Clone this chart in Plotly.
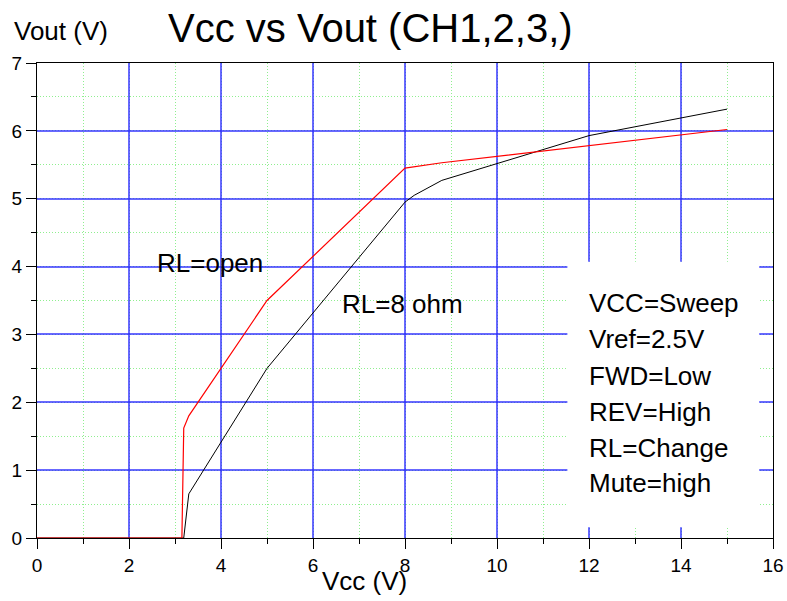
import plotly.graph_objects as go

# Data
open_x = [0, 3.15, 3.19, 3.3, 5, 8, 8.8, 15]
open_y = [0, 0, 1.62, 1.8, 3.5, 5.45, 5.53, 6.02]
ohm8_x = [0, 3.19, 3.3, 5, 8, 8.2, 8.8, 12, 15]
ohm8_y = [0, 0, 0.65, 2.5, 4.95, 5.05, 5.27, 5.93, 6.32]

x_ticks = [0, 2, 4, 6, 8, 10, 12, 14, 16]
y_ticks = [0, 1, 2, 3, 4, 5, 6, 7]

conditions = ["VCC=Sweep", "Vref=2.5V", "FWD=Low", "REV=High", "RL=Change", "Mute=high"]
cond_y = [3.46, 2.93, 2.39, 1.85, 1.32, 0.81]

FONT = "Liberation Sans, Arial, sans-serif"

fig = go.Figure()
fig.add_trace(go.Scatter(x=ohm8_x, y=ohm8_y, mode="lines",
                         line=dict(color="black", width=1), hoverinfo="skip"))
fig.add_trace(go.Scatter(x=open_x, y=open_y, mode="lines",
                         line=dict(color="#ff0000", width=1.2), hoverinfo="skip"))

axis_common = dict(
    showline=True, linecolor="black", linewidth=1.2, mirror=True,
    ticks="outside", ticklen=10, tickcolor="black", tickwidth=1.2,
    showgrid=True, gridcolor="rgba(40,40,255,0.7)", gridwidth=1.5,
    zeroline=False, automargin=False, layer="below traces",
    tickfont=dict(family=FONT, size=19, color="black"),
)

minor_grid = dict(ticks="outside", ticklen=5, tickcolor="black",
                  showgrid=True, gridcolor="#8fef8f", griddash="1px,2px", gridwidth=1)

fig.update_xaxes(range=[0, 16], tickvals=x_ticks, ticktext=[str(v) for v in x_ticks],
                 minor=dict(dtick=1, tick0=0, **minor_grid), **axis_common)
fig.update_yaxes(range=[0, 7], tickvals=y_ticks, ticktext=[str(v) for v in y_ticks],
                 minor=dict(dtick=0.5, tick0=0, **minor_grid), **axis_common)

# white box behind condition text
fig.add_shape(type="rect", xref="x", yref="y", x0=11.53, x1=15.7, y0=0.16, y1=4.07,
              fillcolor="white", line=dict(width=0), layer="between")

TF = dict(family=FONT, size=26, color="black")
ann = []
ann.append(dict(text="RL=open", x=2.57, y=4.05, xref="x", yref="y", xanchor="left",
                yanchor="middle", showarrow=False, font=TF))
ann.append(dict(text="RL=8 ohm", x=6.59, y=3.45, xref="x", yref="y", xanchor="left",
                yanchor="middle", showarrow=False, font=TF))
for t, yy in zip(conditions, cond_y):
    ann.append(dict(text=t, x=11.96, y=yy, xref="x", yref="y", xanchor="left",
                    yanchor="middle", showarrow=False, font=TF))

W, H = 787, 601
PL, PR, PT, PB = 37, 773, 63, 538   # plot area in page pixels
L, R, T, B = PL, W - PR, PT, H - PB
pw, ph = PR - PL, PB - PT
def px(x): return (x - PL) / pw
def py(y): return (PB - y) / ph

ann.append(dict(text="Vout (V)", x=px(12), y=py(31), xref="paper", yref="paper",
                xanchor="left", yanchor="middle", showarrow=False, font=TF))
ann.append(dict(text="Vcc (V)", x=px(320), y=py(581), xref="paper", yref="paper",
                xanchor="left", yanchor="middle", showarrow=False, font=TF))

fig.update_layout(
    width=W, height=H,
    margin=dict(l=L, r=R, t=T, b=B, autoexpand=False),
    paper_bgcolor="white", plot_bgcolor="white",
    showlegend=False,
    annotations=ann,
    title=dict(text="Vcc vs Vout (CH1,2,3,)", x=px(168), xref="paper", xanchor="left",
               y=1 - 28 / H, yanchor="middle", yref="container",
               font=dict(family=FONT, size=40, color="black")),
)

fig.write_html("out.html", config={"displayModeBar": False},
               post_script="document.body.style.margin='0';document.body.style.overflow='hidden';")
